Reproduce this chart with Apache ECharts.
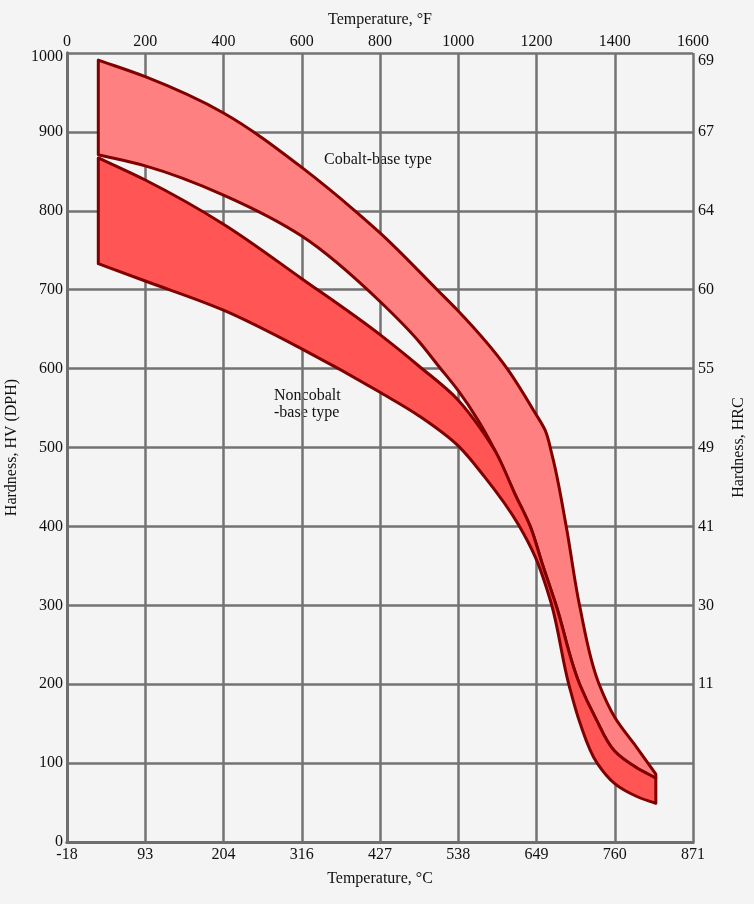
<!DOCTYPE html>
<html lang="en">
<head>
    <meta charset="UTF-8">
    <script src="https://cdn.jsdelivr.net/npm/echarts@6.0.0/dist/echarts.min.js"></script>
    <title>Hardness vs temperature</title>
    <style>
        html, body { margin: 0; padding: 0; background: #f4f4f4; }
        #main { width: 754px; height: 904px; }
    </style>
</head>
<body>
<div id="main"></div>
<script type="text/javascript">
    // tick labels
    var fTicks = ['0', '200', '400', '600', '800', '1000', '1200', '1400', '1600'];
    var cTicks = ['-18', '93', '204', '316', '427', '538', '649', '760', '871'];
    var hrcTicks = ['', '', '11', '30', '41', '49', '55', '60', '64', '67', '69'];

    // cobalt-base band (°F, HV)
    var cobaltTopF  = [80, 200, 400, 600, 736, 800, 946, 1000, 1125, 1195, 1222, 1240, 1276, 1310, 1360, 1400, 1456, 1505];
    var cobaltTopHV = [991, 970, 924, 855, 800, 772, 700, 673, 600, 545, 522, 490, 400, 300, 200, 158, 120, 86];
    var cobaltBotF  = [80, 200, 400, 600, 800, 900, 950, 1000, 1050, 1095];
    var cobaltBotHV = [871, 857, 820, 768, 685, 634, 603, 572, 535, 495];

    // noncobalt-base band
    var nonTopF  = [80, 200, 400, 600, 800, 900, 1000, 1057, 1095];
    var nonTopHV = [867, 839, 783, 714, 643, 603, 560, 524, 495];
    var nonBotF  = [80, 200, 400, 600, 800, 900, 1000, 1067, 1154, 1197, 1235, 1283, 1311, 1355, 1400, 1455, 1505];
    var nonBotHV = [733, 711, 674, 625, 570, 540, 502, 463, 402, 361, 307, 199, 151, 100, 74, 58, 49];

    // line shared by both bands at high temperature
    var sharedF  = [1144, 1184, 1215, 1250, 1311, 1350, 1400, 1456, 1505];
    var sharedHV = [442, 400, 352, 300, 199, 158, 115, 94, 81];

    var myChart = echarts.init(document.getElementById('main'));

    function toPts(api, fs, hvs) {
        return fs.map(function (f, i) { return api.coord([f, hvs[i]]); });
    }

    function dist(a, b) {
        return Math.sqrt((a[0] - b[0]) * (a[0] - b[0]) + (a[1] - b[1]) * (a[1] - b[1]));
    }

    // smooth curve through the points (chord-length hermite, bessel tangents)
    function curve(pts) {
        var n = pts.length, m = [], i;
        for (i = 0; i < n; i++) {
            if (i === 0 || i === n - 1) {
                var a = pts[i === 0 ? 0 : n - 2], b = pts[i === 0 ? 1 : n - 1], d = dist(a, b);
                m.push([(b[0] - a[0]) / d, (b[1] - a[1]) / d]);
            } else {
                var d1 = dist(pts[i - 1], pts[i]), d2 = dist(pts[i], pts[i + 1]);
                var v1 = [(pts[i][0] - pts[i - 1][0]) / d1, (pts[i][1] - pts[i - 1][1]) / d1];
                var v2 = [(pts[i + 1][0] - pts[i][0]) / d2, (pts[i + 1][1] - pts[i][1]) / d2];
                m.push([(d2 * v1[0] + d1 * v2[0]) / (d1 + d2), (d2 * v1[1] + d1 * v2[1]) / (d1 + d2)]);
            }
        }
        var s = '';
        for (i = 0; i < n - 1; i++) {
            var h = dist(pts[i], pts[i + 1]) / 3;
            var c1 = [pts[i][0] + m[i][0] * h, pts[i][1] + m[i][1] * h];
            var c2 = [pts[i + 1][0] - m[i + 1][0] * h, pts[i + 1][1] - m[i + 1][1] * h];
            s += ' C' + c1[0].toFixed(2) + ',' + c1[1].toFixed(2) + ' ' + c2[0].toFixed(2) + ',' + c2[1].toFixed(2) +
                ' ' + pts[i + 1][0].toFixed(2) + ',' + pts[i + 1][1].toFixed(2);
        }
        return s;
    }

    function band(top, bot, color) {
        var t = top, b = bot.slice().reverse();
        var d = 'M' + t[0][0].toFixed(2) + ',' + t[0][1].toFixed(2) + curve(t) +
            ' L' + b[0][0].toFixed(2) + ',' + b[0][1].toFixed(2) + curve(b) + ' Z';
        return {
            type: 'path',
            shape: {pathData: d},
            style: {fill: color, stroke: '#800000', lineWidth: 3, lineJoin: 'round'}
        };
    }

    var serif = 'Liberation Serif';

    var option = {
        backgroundColor: '#f4f4f4',
        animation: false,
        textStyle: {fontFamily: serif},
        grid: {left: 67, right: 61, top: 53, bottom: 62, containLabel: false, outerBoundsMode: 'none'},
        xAxis: [
            {
                type: 'value', position: 'bottom', min: 0, max: 1600, interval: 200,
                name: 'Temperature, °C', nameLocation: 'middle', nameGap: 29,
                nameTextStyle: {fontSize: 16, color: '#111', fontFamily: serif},
                axisLine: {lineStyle: {color: '#6e6e6e', width: 3}},
                axisTick: {show: false},
                axisLabel: {
                    fontSize: 16, color: '#111', margin: 5, fontFamily: serif,
                    formatter: function (v) { return cTicks[Math.round(v / 200)]; }
                },
                splitLine: {show: true, lineStyle: {color: '#737373', width: 2.5}}
            },
            {
                type: 'value', position: 'top', min: 0, max: 1600, interval: 200,
                name: 'Temperature, °F', nameLocation: 'middle', nameGap: 25,
                nameTextStyle: {fontSize: 16, color: '#111', fontFamily: serif},
                axisLine: {lineStyle: {color: '#6e6e6e', width: 3}},
                axisTick: {show: false},
                axisLabel: {
                    fontSize: 16, color: '#111', margin: 3, fontFamily: serif,
                    formatter: function (v) { return fTicks[Math.round(v / 200)]; }
                },
                splitLine: {show: false}
            }
        ],
        yAxis: [
            {
                type: 'value', position: 'left', min: 0, max: 1000, interval: 100,
                name: 'Hardness, HV (DPH)', nameLocation: 'middle', nameGap: 45,
                nameTextStyle: {fontSize: 16, color: '#111', fontFamily: serif},
                axisLine: {show: true, lineStyle: {color: '#6e6e6e', width: 3}},
                axisTick: {show: false},
                axisLabel: {
                    fontSize: 16, color: '#111', margin: 4, fontFamily: serif,
                    formatter: function (v) { return v === 1000 ? '{t|1000}' : String(v); },
                    rich: {t: {fontSize: 16, fontFamily: serif, color: '#111', padding: [7, 0, 0, 0]}}
                },
                splitLine: {show: true, lineStyle: {color: '#737373', width: 2.5}}
            },
            {
                type: 'value', position: 'right', min: 0, max: 1000, interval: 100,
                name: 'Hardness, HRC', nameLocation: 'middle', nameGap: 38, nameRotate: 90,
                nameTextStyle: {fontSize: 16, color: '#111', fontFamily: serif},
                axisLine: {show: true, lineStyle: {color: '#6e6e6e', width: 3}},
                axisTick: {show: false},
                axisLabel: {
                    fontSize: 16, color: '#111', margin: 5, fontFamily: serif,
                    formatter: function (v) {
                        var s = hrcTicks[Math.round(v / 100)];
                        return v === 1000 ? '{t|' + s + '}' : s;
                    },
                    rich: {t: {fontSize: 16, fontFamily: serif, color: '#111', padding: [16, 0, 0, 0]}}
                },
                splitLine: {show: false}
            }
        ],
        series: [
            {
                name: 'Cobalt-base type',
                type: 'custom',
                coordinateSystem: 'cartesian2d',
                silent: true,
                data: [[0, 0]],
                renderItem: function (params, api) {
                    var top = toPts(api, cobaltTopF, cobaltTopHV);
                    var bot = toPts(api, cobaltBotF.concat(sharedF), cobaltBotHV.concat(sharedHV));
                    return band(top, bot, '#ff8080');
                }
            },
            {
                name: 'Noncobalt-base type',
                type: 'custom',
                coordinateSystem: 'cartesian2d',
                silent: true,
                data: [[0, 0]],
                renderItem: function (params, api) {
                    var top = toPts(api, nonTopF.concat(sharedF), nonTopHV.concat(sharedHV));
                    var bot = toPts(api, nonBotF, nonBotHV);
                    return band(top, bot, '#ff5555');
                }
            }
        ],
        graphic: [
            {
                type: 'text', left: 324, top: 152,
                style: {text: 'Cobalt-base type', fontSize: 16, fill: '#111', fontFamily: serif}
            },
            {
                type: 'text', left: 274, top: 387,
                style: {text: 'Noncobalt\n-base type', fontSize: 16, lineHeight: 17, fill: '#111', fontFamily: serif}
            }
        ]
    };

    myChart.setOption(option);
</script>
</body>
</html>
